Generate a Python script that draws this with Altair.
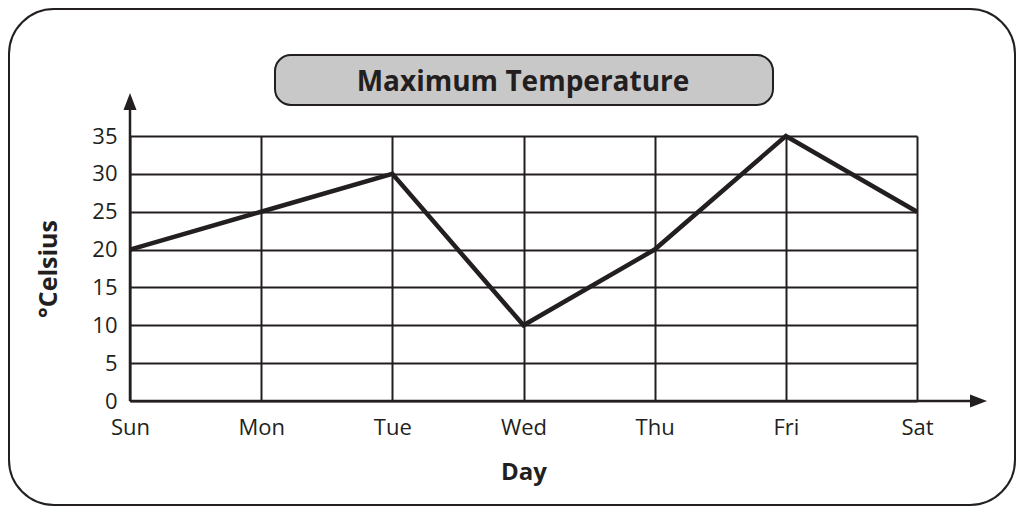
import altair as alt
import pandas as pd

# ---- data ----
days = ["Sun", "Mon", "Tue", "Wed", "Thu", "Fri", "Sat"]
temps = [20, 25, 30, 10, 20, 35, 25]
y_ticks = [0, 5, 10, 15, 20, 25, 30, 35]
chart_title = "Maximum Temperature"
x_title = "Day"
y_title = "°Celsius"

W, H = 787, 265
INK = "#231f20"
FONT = "Open Sans"

df = pd.DataFrame({"day": days, "temp": temps})
one = pd.DataFrame({"k": [0]})

x_enc = alt.X(
    "day:N",
    sort=days,
    scale=alt.Scale(type="point", padding=0, domain=days),
    axis=alt.Axis(title=x_title, labelAngle=0, labelPadding=16, titlePadding=22,
                  titleFontSize=24),
)
y_enc = alt.Y(
    "temp:Q",
    scale=alt.Scale(domain=[0, 35], nice=False, zero=True),
    axis=alt.Axis(title=y_title, values=y_ticks, labelPadding=13, titlePadding=30,
                  titleFontSize=25),
)

line = alt.Chart(df).mark_line(color=INK, strokeWidth=4.5, strokeJoin="miter").encode(
    x=x_enc, y=y_enc
)

frame = alt.Chart(one).mark_rect(
    cornerRadius=45, fillOpacity=0, stroke=INK, strokeWidth=2
).encode(x=alt.value(-121), x2=alt.value(885), y=alt.value(-127), y2=alt.value(369))

title_box = alt.Chart(one).mark_rect(
    cornerRadius=16, fill="#c8c8c9", stroke=INK, strokeWidth=2
).encode(x=alt.value(145), x2=alt.value(643), y=alt.value(-81), y2=alt.value(-31))

title_txt = alt.Chart(one).mark_text(
    text=chart_title, font=FONT, fontSize=28, fontWeight="bold", color=INK,
    align="center", baseline="middle",
).encode(x=alt.value(393), y=alt.value(-53))

y_rule = alt.Chart(one).mark_rule(color=INK, strokeWidth=2.5).encode(
    x=alt.value(0), y=alt.value(H), y2=alt.value(-33)
)
y_arrow = alt.Chart(one).mark_point(
    shape="M0,-1L0.65,0.7L-0.65,0.7Z", size=400, filled=True, fill=INK,
    strokeWidth=0, opacity=1,
).encode(x=alt.value(0), y=alt.value(-33))

x_rule = alt.Chart(one).mark_rule(color=INK, strokeWidth=2.5).encode(
    x=alt.value(0), x2=alt.value(847), y=alt.value(H)
)
x_arrow = alt.Chart(one).mark_point(
    shape="M1,0L-0.7,0.65L-0.7,-0.65Z", size=400, filled=True, fill=INK,
    strokeWidth=0, opacity=1,
).encode(x=alt.value(847), y=alt.value(H))

chart = (
    alt.layer(frame, title_box, title_txt, line, y_rule, y_arrow, x_rule, x_arrow)
    .properties(
        width=W,
        height=H,
        padding={"left": 122, "top": 128, "right": 99, "bottom": 105},
        autosize=alt.AutoSizeParams(type="none"),
        background="white",
    )
    .configure_axis(
        labelFont=FONT, labelFontSize=22, labelColor=INK,
        titleFont=FONT, titleFontWeight="bold", titleColor=INK,
        grid=True, gridColor=INK, gridWidth=2, gridOpacity=1,
        domain=False, ticks=False,
    )
    .configure_view(strokeWidth=0)
)

chart.save("out.html", embed_options={"renderer": "svg", "actions": False})
